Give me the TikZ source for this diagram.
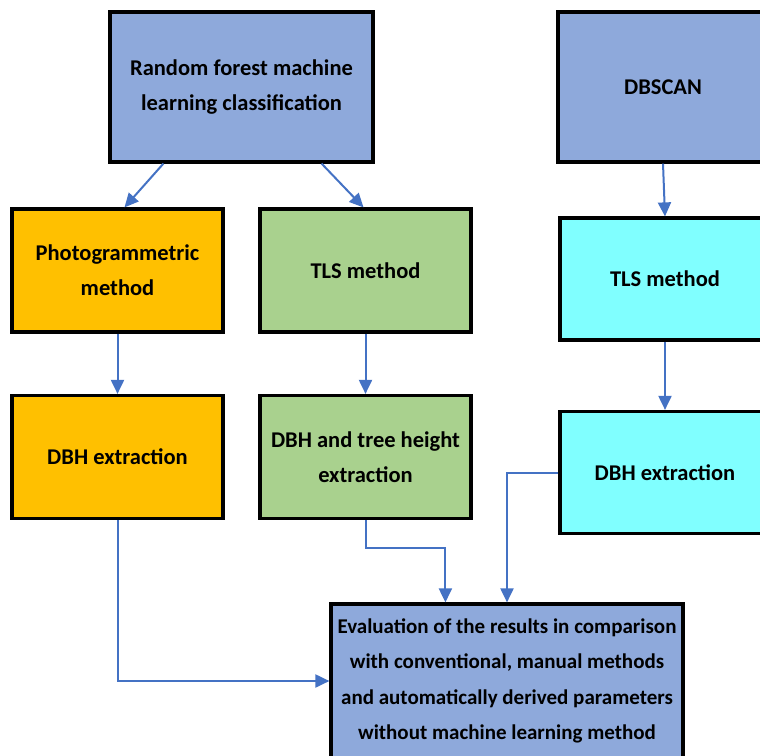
\documentclass[tikz,border=0pt]{standalone}
\usepackage{fontspec}
\setmainfont{Carlito}
\usetikzlibrary{arrows.meta,positioning}
\definecolor{boxblue}{HTML}{8EA9DB}
\definecolor{boxorange}{HTML}{FFC000}
\definecolor{boxgreen}{HTML}{A9D18E}
\definecolor{boxcyan}{HTML}{80FFFF}
\definecolor{arrowblue}{HTML}{4472C4}

\begin{document}
\begin{tikzpicture}[x=1pt,y=-1pt,
		box/.style={draw=black,line width=3.2pt,align=center,font=\fontsize{22.5}{35}\selectfont\bfseries,inner sep=0pt},
		small/.style={box,minimum width=211pt,minimum height=123pt},
		link/.style={draw=arrowblue,line width=2pt,-{Triangle[length=14pt,width=13pt]}}]
				\useasboundingbox (0,0) rectangle (760,755);
				\clip (0,0) rectangle (760,755);
				\node [box,fill=boxblue,minimum width=263pt,minimum height=150pt] (rf) at (241.5,87) {Random forest machine\\learning classification};
				\node [box,fill=boxblue,minimum width=210pt,minimum height=150pt] (db) at (663,87) {DBSCAN};
				\node [small,fill=boxorange] (photo) at (117.5,270.5) {Photogrammetric\\method};
				\node [small,fill=boxgreen] (tlsg) at (365.5,270.5) {TLS method};
				\node [small,fill=boxcyan,minimum width=210pt,minimum height=122pt] (tlsc) at (665,279) {TLS method};
				\node [small,fill=boxorange,below of=photo,node distance=186.5pt] (dbho) {DBH extraction};
				\node [small,fill=boxgreen,below of=tlsg,node distance=186.5pt] (dbhg) {DBH and tree height\\extraction};
				\node [small,fill=boxcyan,minimum width=210pt,minimum height=122pt,below of=tlsc,node distance=193.5pt] (dbhc) {DBH extraction};
				\node [box,fill=boxblue,minimum width=352pt,minimum height=154pt,font=\fontsize{21}{35.5}\selectfont\bfseries] (eval) at (507,681) {Evaluation of the results in comparison\\with conventional, manual methods\\and automatically derived parameters\\without machine learning method};
				\path [link] ([xshift=55pt]rf.south west) -- ([xshift=7pt]photo.north);
				\path [link] ([xshift=-53pt]rf.south east) -- ([xshift=-2pt]tlsg.north);
				\path [link] (db.south) -- (tlsc.north);
				\path [link] (photo.south) -- (dbho.north);
				\path [link] (tlsg.south) -- (dbhg.north);
				\path [link] (tlsc.south) -- (dbhc.north);
				\path [link] (dbho.south) |- (eval.west);
				\path [link] (dbhg.south) -- ++(0,28) -| ([xshift=116pt]eval.north west);
				\path [link] (dbhc.west) -| (eval.north);
			\end{tikzpicture}
\end{document}
